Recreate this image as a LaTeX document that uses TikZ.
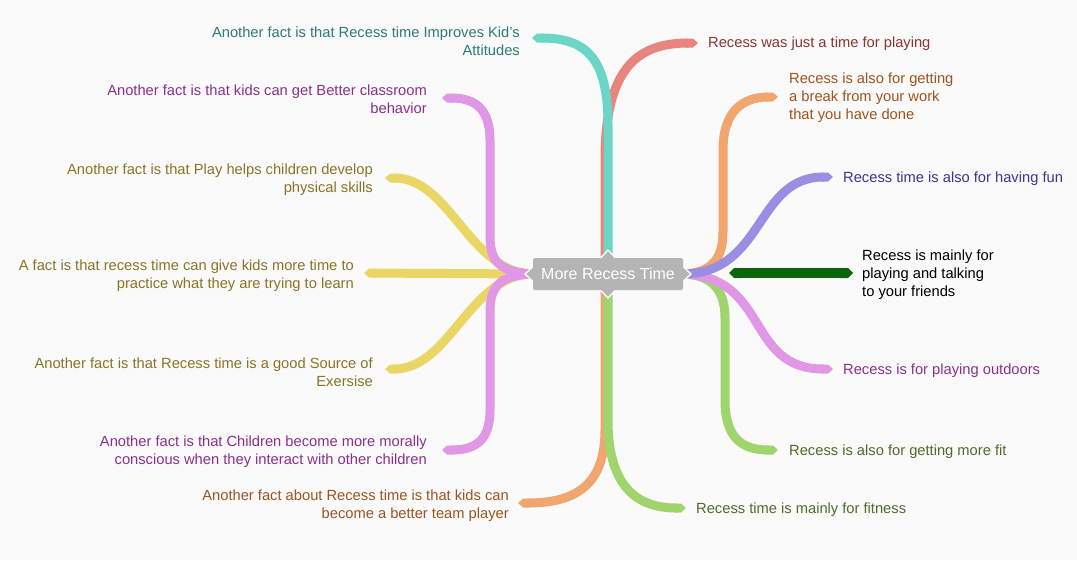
\documentclass[tikz,border=0pt]{standalone}
\usepackage{fontspec}
\setmainfont{Liberation Sans}
\usetikzlibrary{arrows.meta}
\definecolor{bg}{HTML}{FAFAFA}
\definecolor{tealB}{HTML}{6BD6C5}
\definecolor{redB}{HTML}{E8857F}
\definecolor{orangeB}{HTML}{F0A66E}
\definecolor{purpleB}{HTML}{9A8EE2}
\definecolor{dgreenB}{HTML}{0B660B}
\definecolor{pinkB}{HTML}{E097E6}
\definecolor{lgreenB}{HTML}{9FD56C}
\definecolor{yellowB}{HTML}{E9D665}
\definecolor{boxgray}{HTML}{B4B4B4}
\definecolor{tealT}{HTML}{2C7C78}
\definecolor{redT}{HTML}{8A3530}
\definecolor{orangeT}{HTML}{9E531E}
\definecolor{purpleT}{HTML}{3B3590}
\definecolor{pinkT}{HTML}{8C2F8C}
\definecolor{greenT}{HTML}{4E6B2A}
\definecolor{yellowT}{HTML}{8A7424}
\begin{document}
\begin{tikzpicture}[x=1pt,y=-1pt,
  br/.style={line width=9pt,line cap=butt,-{Triangle Cap[length=5pt]}},
  lbl/.style={inner sep=0pt,font=\fontsize{14.7}{18}\selectfont},
  lt/.style={lbl,anchor=west,align=left},
  rt/.style={lbl,anchor=east,align=right},
  ctr/.style={fill=boxgray,rounded corners=2pt,minimum width=150pt,minimum height=32pt,inner sep=0pt,text=white,font=\fontsize{16}{18}\selectfont},
  port/.style={fill=boxgray,draw=white,line width=1.3pt}]
\fill[bg] (0,0) rectangle (1077,560);
\useasboundingbox (0,0) rectangle (1077,560);
% center (placed first for anchors, redrawn later)
\path (608,274) node[ctr,fill=none,text=bg] (c) {\phantom{More Recess Time}};
% tips
\coordinate (tTeal) at (532,38);
\coordinate (tRed) at (698,43);
\coordinate (tOr) at (778,97);
\coordinate (tPu) at (833,177);
\coordinate (tDgL) at (729,273);
\coordinate (tDgR) at (853,273);
\coordinate (tPkR) at (833,369);
\coordinate (tGrR) at (778,450);
\coordinate (tGrB) at (686,508);
\coordinate (tOrB) at (518,503);
\coordinate (tPkL1) at (442,98);
\coordinate (tPkL2) at (442,450);
\coordinate (tY1) at (385,178);
\coordinate (tY2) at (364,273);
\coordinate (tY3) at (385,369);
% labels
\node[rt,text=tealT] (l1) at (520,41) {Another fact is that Recess time Improves Kid's\\Attitudes};
\node[rt,text=pinkT] (l2) at (427,99) {Another fact is that kids can get Better classroom\\behavior};
\node[rt,text=yellowT] (l3) at (373,180) {Another fact is that Play helps children develop\\physical skills};
\node[rt,text=yellowT] (l4) at (354,276) {A fact is that recess time can give kids more time to\\practice what they are trying to learn};
\node[rt,text=yellowT] (l5) at (373,372) {Another fact is that Recess time is a good Source of\\Exersise};
\node[rt,text=pinkT] (l6) at (427,452) {Another fact is that Children become more morally\\conscious when they interact with other children};
\node[rt,text=orangeT] (l7) at (509,506) {Another fact about Recess time is that kids can\\become a better team player};
\node[lt,text=redT] (r1) at (708,44) {Recess was just a time for playing};
\node[lt,text=orangeT] (r2) at (789,98) {Recess is also for getting\\a break from your work\\that you have done};
\node[lt,text=purpleT] (r3) at (843,179) {Recess time is also for having fun};
\node[lt,text=black] (r4) at (862,275) {Recess is mainly for\\playing and talking\\to your friends};
\node[lt,text=pinkT] (r5) at (843,371) {Recess is for playing outdoors};
\node[lt,text=greenT] (r6) at (789,452) {Recess is also for getting more fit};
\node[lt,text=greenT] (r7) at (696,510) {Recess time is mainly for fitness};
% left branches
\draw[br,yellowB] (c.west) .. controls (470,273) and (450,178) .. (tY1);
\draw[br,yellowB] (c.west) -- (tY2);
\draw[br,yellowB] (c.west) .. controls (470,274) and (450,369) .. (tY3);
\draw[br,pinkB] (c.west) .. controls (500,272) and (490,262) .. (490,236) -- (490,140) .. controls (490,110) and (476,98) .. (tPkL1);
\draw[br,pinkB] (c.west) .. controls (500,275) and (490,286) .. (490,312) -- (490,410) .. controls (490,440) and (476,450) .. (tPkL2);
% top branches
\draw[br,redB] ([xshift=-3pt]c.north) -- (605,160) .. controls (605,65) and (640,43) .. (tRed);
\draw[br,tealB] (c.north) -- (608,125) .. controls (608,58) and (586,38) .. (tTeal);
% bottom branches
\draw[br,orangeB] ([xshift=-3pt]c.south) -- (605,430) .. controls (605,488) and (572,503) .. (tOrB);
\draw[br,lgreenB] (c.south) -- (608,420) .. controls (608,490) and (640,508) .. (tGrB);
% right branches
\draw[br,orangeB] (c.east) .. controls (712,273) and (723,258) .. (723,232) -- (723,150) .. controls (723,112) and (742,97) .. (tOr);
\draw[br,lgreenB] (c.east) .. controls (712,275) and (725,290) .. (725,318) -- (725,400) .. controls (725,438) and (742,450) .. (tGrR);
\draw[br,pinkB] (c.east) .. controls (770,277) and (745,369) .. (tPkR);
\draw[br,purpleB] (c.east) .. controls (765,273) and (755,177) .. (tPu);
\draw[line width=10pt,dgreenB,{Triangle Cap[length=5pt]}-{Triangle Cap[length=5pt]}] (tDgL) -- (tDgR);
% ports and center box
\draw[port] (600,258.5) -- (608,250) -- (616,258.5);
\draw[port] (600,289.5) -- (608,298) -- (616,289.5);
\draw[port] (533.5,266) -- (525,274) -- (533.5,282);
\draw[port] (682.5,266) -- (691,274) -- (682.5,282);
\node[ctr] (cc) at (c.center) {More Recess Time};
\end{tikzpicture}
\end{document}
